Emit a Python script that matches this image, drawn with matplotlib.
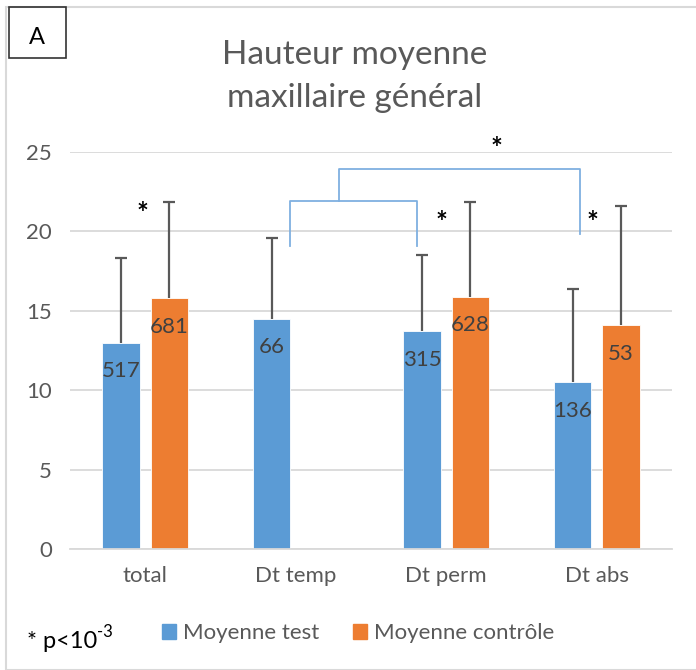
import numpy as np
import matplotlib.pyplot as plt
from matplotlib.patches import Rectangle

# Hauteur moyenne maxillaire general - test vs controle
categories = ["total", "Dt temp", "Dt perm", "Dt abs"]
test_mean = [13.0, 14.5, 13.7, 10.5]
test_err = [5.3, 5.1, 4.8, 5.9]
test_n = ["517", "66", "315", "136"]
ctrl_mean = [15.8, np.nan, 15.9, 14.1]
ctrl_err = [6.05, np.nan, 5.95, 7.5]
ctrl_n = ["681", "", "628", "53"]

blue = "#5B9BD5"
orange = "#ED7D31"
grey_txt = "#595959"

plt.rcParams["font.family"] = ["Lato", "DejaVu Sans"]

W, H = 696, 670
fig = plt.figure(figsize=(W / 100, H / 100), dpi=100)
ax = fig.add_axes([70 / W, 1 - 549 / H, 602 / W, 397 / H])

x = np.arange(len(categories))
off, width = 0.16, 0.25
ax.bar(x - off, test_mean, width, color=blue, edgecolor="white", linewidth=0.6, zorder=2)
ax.bar(x + off, ctrl_mean, width, color=orange, edgecolor="white", linewidth=0.6, zorder=2)
ekw = dict(fmt="none", ecolor="#595959", elinewidth=1.6, capsize=4.5, capthick=1.6, zorder=3)
for pos, m, e in [(x - off, test_mean, test_err), (x + off, ctrl_mean, ctrl_err)]:
    eb = ax.errorbar(pos, m, yerr=[np.zeros(4), e], **ekw)
    eb[1][0].set_visible(False)  # only the upper whisker is shown

for i in range(len(categories)):
    ax.text(x[i] - off, test_mean[i] - 1.8, test_n[i], ha="center", va="center",
            fontsize=16, color="#404040", zorder=4)
    if ctrl_n[i]:
        ax.text(x[i] + off, ctrl_mean[i] - 1.8, ctrl_n[i], ha="center", va="center",
                fontsize=16, color="#404040", zorder=4)

ax.set_xlim(-0.5, 3.5)
ax.set_ylim(0, 25)
ax.set_yticks(range(0, 26, 5))
ax.set_xticks(x)
ax.set_xticklabels(categories)
ax.tick_params(axis="both", length=0, labelsize=16, colors=grey_txt)
ax.tick_params(axis="x", pad=12)
ax.tick_params(axis="y", pad=13)
ax.grid(axis="y", color="#d9d9d9", linewidth=1.3, zorder=0)
for s in ["top", "right", "left"]:
    ax.spines[s].set_visible(False)
ax.spines["bottom"].set_color("#d9d9d9")
ax.spines["bottom"].set_linewidth(1.3)

# significance brackets
bl = dict(color="#7FB0E0", linewidth=1.3, clip_on=False, zorder=3)
ax.plot([0.962, 0.962, 1.806, 1.806], [19.1, 21.9, 21.9, 19.1], **bl)
ax.plot([1.287, 1.287, 2.889, 2.889], [21.9, 23.9, 23.9, 19.85], **bl)
for sx, sy in [(2.337, 25.2), (-0.02, 21.1), (1.965, 20.5), (2.97, 20.5)]:
    ax.text(sx, sy, "*", ha="center", va="center", fontsize=20, color="black",
            fontweight="bold", clip_on=False)

fig.text(355 / W, 1 - 55 / H, "Hauteur moyenne", ha="center", va="center",
         fontsize=24, color=grey_txt)
fig.text(355 / W, 1 - 98 / H, "maxillaire général", ha="center", va="center",
         fontsize=24, color=grey_txt)

# legend
h1 = Rectangle((0, 0), 1, 1, color=blue)
h2 = Rectangle((0, 0), 1, 1, color=orange)
fig.legend([h1, h2], ["Moyenne test", "Moyenne contrôle"], loc="center",
           bbox_to_anchor=(358 / W, 1 - 633 / H), ncol=2, frameon=False,
           fontsize=16, labelcolor=grey_txt, handlelength=0.65, handleheight=0.65,
           handletextpad=0.3, columnspacing=1.5)

# p-value note, superscript placed right after the text
pt = fig.text(27 / W, 1 - 648 / H, "* p<10", ha="left", va="baseline",
              fontsize=17, color="black")
ax.annotate("-3", xy=(1.0, 0.55), xycoords=pt, ha="left", va="bottom",
            fontsize=12, color="black", annotation_clip=False)

# panel frame and label
fig.patches.append(Rectangle((6 / W, 0), 1, 1 - 7 / H, transform=fig.transFigure,
                             fill=False, edgecolor="#d9d9d9", linewidth=1.5))
fig.patches.append(Rectangle((9 / W, 1 - 58 / H), 57 / W, 51 / H, transform=fig.transFigure,
                             fill=False, edgecolor="#333333", linewidth=1.2))
fig.text(37 / W, 1 - 38 / H, "A", ha="center", va="center", fontsize=17, color="black")

fig.savefig("out.png", dpi=100)
